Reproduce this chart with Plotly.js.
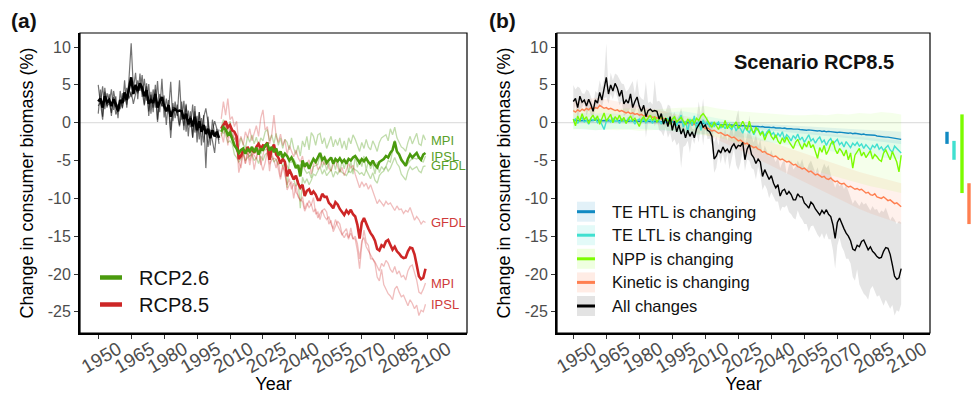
<!DOCTYPE html>
<html><head><meta charset="utf-8">
<script src="https://cdn.plot.ly/plotly-3.0.1.min.js"></script>
<style>html,body{margin:0;padding:0;background:#fff}#chart{width:971px;height:394px}</style>
</head><body><div id="chart"></div>
<script>
// ---------- DATA ----------
const histStart = 1950, histEnd = 2005, futStart = 2006, futEnd = 2099;
const tickYears = [1950,1965,1980,1995,2010,2025,2040,2055,2070,2085,2100];
const tickVals = [-25,-20,-15,-10,-5,0,5,10];
const modelNames = ["MPI","IPSL","GFDL"];

// historical (1950-2005)
const histMean = [2.8,3.2,2.0,3.5,2.7,3.0,2.2,3.1,2.4,1.5, 3.0,2.6,4.0,3.0,4.5,6.0,3.8,5.0,4.2,5.2, 4.6,3.5,4.3,2.5,3.0,2.6,3.8,2.0,2.8,3.4, 2.2,1.5,2.3,0.8,1.6,1.8,1.5,1.6,1.5,0.5, 1.2,-0.2,0.6,-0.5,0.8,-1.0,0.2,-1.2,-0.3,-1.5, -0.8,-2.0,-1.0,-1.8,-1.2,-2.0];
const histM1 = [5.0,2.5,4.8,1.8,3.9,2.6,4.4,1.7,3.5,0.6, 4.2,1.9,5.6,2.0,5.8,10.5,4.5,6.6,3.1,6.5, 3.4,5.8,2.9,5.1,1.2,4.4,2.0,5.5,1.4,5.8, 0.7,3.2,1.5,5.4,0.2,2.8,0.9,5.6,0.4,2.9, -1.2,1.6,-0.6,2.4,-1.3,0.9,-2.2,0.6,-2.6,-0.4, -3.2,-0.9,-2.4,-4.0,-0.8,-2.8];
const histM2 = [1.2,4.4,0.8,4.6,2.0,3.8,0.9,4.2,2.6,2.2, 1.8,3.9,2.8,4.6,3.2,4.1,2.5,3.8,5.6,4.2, 6.3,2.4,5.2,0.9,4.1,1.4,5.0,0.4,3.8,2.2, 3.6,-0.3,3.0,-1.0,2.6,0.6,2.4,-0.3,2.8,-1.0, 2.5,-1.8,1.5,-2.0,2.2,-2.6,1.4,-3.0,1.0,-6.0, 0.8,-3.0,0.4,-1.6,-2.0,-0.9];
const histM3 = [2.2,2.7,0.4,4.1,2.2,2.6,1.3,3.4,1.1,1.7, 3.0,2.0,3.6,2.4,4.5,3.4,4.4,4.6,3.9,4.9, 4.1,2.3,4.8,1.5,3.7,2.0,4.4,0.1,3.2,2.2, 2.3,1.6,2.4,-2.0,2.0,2.0,1.2,-0.5,1.3,-0.4, 2.3,-0.4,0.9,-1.9,1.5,-1.3,1.4,-1.2,0.7,1.9, 0.0,-2.1,-1.0,0.2,-0.8,-2.3];

// RCP8.5 (2006-2099)
const rcp85Mean = [-0.8,-0.2,0.2,-0.6, -0.3,-1.0,-1.2,-1.8,-4.8,-4.4,-3.6,-4.0,-3.2,-3.8, -3.5,-4.0,-3.2,-2.8,-3.4,-3.0,-3.1,-2.6,-4.9,-3.5, -2.9,-4.2,-4.6,-5.4,-4.8,-5.2,-7.1,-6.2,-6.8,-7.5, -7.0,-8.0,-8.6,-8.2,-9.7,-9.0,-8.8,-9.5,-9.1,-9.5, -10.2,-10.2,-9.4,-9.8,-9.8,-10.6,-10.9,-11.3,-10.5,-10.8, -11.4,-11.8,-12.2,-11.6,-12.0,-11.5,-12.1,-12.4,-13.5,-15.3, -13.2,-12.6,-13.4,-14.0,-14.6,-15.0,-15.6,-16.7,-16.9,-16.2, -16.4,-15.7,-15.5,-16.2,-16.8,-16.4,-17.0,-17.3,-17.7,-17.9, -17.8,-17.0,-16.5,-16.6,-17.4,-18.8,-20.3,-20.7,-20.5,-19.3];
const rcp85MPI = [-1.5,-0.8,0.0,-2.0, -0.6,-2.2,-1.0,-3.0,-5.2,-6.0,-3.8,-5.4,-3.6,-5.0, -4.0,-6.2,-4.4,-3.2,-5.6,-4.4,-3.0,-3.6,-6.4,-4.0, -5.0,-6.0,-5.0,-7.2,-5.6,-7.0,-8.2,-7.4,-8.8,-8.0, -9.2,-9.6,-10.4,-9.8,-11.4,-10.6,-11.2,-10.8,-11.8,-11.4, -12.6,-12.0,-11.6,-12.4,-12.8,-12.4,-13.4,-14.0,-12.8,-13.6, -14.2,-14.8,-14.4,-14.0,-15.2,-14.6,-15.4,-15.0,-16.0,-18.0, -15.6,-15.2,-16.4,-17.0,-17.6,-18.0,-18.4,-19.0,-19.6,-18.6, -19.0,-18.2,-18.6,-19.4,-19.8,-19.0,-20.0,-19.6,-20.4,-20.2, -20.8,-19.6,-19.0,-18.8,-19.8,-20.8,-22.4,-22.6,-22.0,-21.2];
const rcp85IPSL = [-1.4,-2.6,-0.4,-3.0, -0.7,-1.6,-2.1,-2.6,-6.6,-5.4,-4.0,-5.4,-4.0,-5.6, -4.1,-4.3,-4.8,-3.4,-5.2,-6.3,-5.3,-3.7,-5.5,-4.9, -4.7,-4.8,-6.2,-7.5,-5.8,-6.4,-8.9,-8.2,-7.8,-10.0, -8.2,-9.8,-10.2,-10.4,-11.7,-11.1,-10.3,-10.9,-9.9,-12.1, -11.8,-12.8,-11.6,-11.4,-11.8,-13.4,-12.9,-14.4,-13.7,-13.0, -13.4,-14.7,-15.2,-14.6,-15.4,-13.9,-15.3,-15.4,-16.9,-19.3, -16.2,-14.2,-15.8,-16.2,-18.0,-18.0,-18.6,-20.4,-20.9,-19.4, -21.4,-22.0,-22.6,-22.9,-23.4,-22.0,-21.6,-22.4,-23.0,-22.8, -23.6,-24.2,-23.4,-23.9,-24.6,-24.1,-25.5,-24.8,-25.0,-24.0];
const rcp85GFDL = [0.5,2.8,1.0,3.2, 0.4,0.8,-0.5,0.2,-2.6,-1.8,-3.0,-1.2,-2.0,-0.8, -2.4,-1.5,-0.4,-1.8,0.6,1.7,-1.0,-0.5,-2.8,-1.6, 1.0,-1.8,-2.6,-1.5,-3.0,-2.2,-4.2,-3.0,-3.8,-4.5, -3.6,-4.6,-5.2,-4.4,-6.0,-5.3,-4.9,-6.8,-5.6,-5.0, -6.2,-5.8,-5.0,-5.6,-4.8,-6.0,-6.4,-5.5,-5.0,-5.8, -6.6,-5.9,-7.0,-6.2,-5.4,-6.0,-5.6,-6.8,-7.6,-8.6, -7.8,-8.4,-8.0,-8.8,-8.2,-9.0,-9.8,-10.7,-10.2,-10.6, -11.0,-10.4,-10.8,-10.6,-11.2,-11.6,-11.0,-11.5,-11.4,-12.0, -11.6,-11.8,-11.2,-12.0,-12.9,-12.4,-12.8,-13.4,-13.0,-13.2];

// RCP2.6 (2006-2099)
const rcp26Mean = [-1.2,-0.6,-0.9,-1.6, -1.3,-2.2,-3.0,-3.4,-4.0,-3.6,-3.4,-4.1,-3.5,-3.8, -3.2,-3.9,-3.3,-4.2,-3.5,-3.6,-3.0,-2.8,-3.7,-3.2, -3.9,-3.4,-4.3,-3.8,-4.6,-4.1,-4.4,-5.0,-4.6,-5.2, -6.0,-5.6,-7.1,-5.0,-5.8,-5.3,-6.1,-5.4,-4.8,-5.2, -4.5,-4.0,-4.9,-4.6,-5.3,-5.0,-4.6,-5.4,-4.8,-5.1, -4.7,-5.2,-4.9,-5.4,-4.8,-5.0,-4.6,-4.4,-4.9,-5.3, -4.8,-5.1,-4.7,-5.2,-5.5,-5.0,-5.6,-5.9,-5.2,-5.0, -4.8,-4.4,-4.6,-4.0,-3.6,-2.5,-3.8,-4.2,-4.9,-5.3, -5.7,-4.8,-4.2,-4.6,-4.3,-4.0,-4.6,-4.9,-4.2,-4.0];
const rcp26MPI = [-0.6,0.4,-0.2,-1.0, 0.2,-1.6,-2.2,-1.8,-3.2,-2.0,-2.8,-3.4,-1.8,-2.6, -1.6,-2.8,-1.9,-3.2,-2.0,-2.4,-1.2,-0.9,-2.4,-1.6, -2.8,-1.4,-3.0,-2.0,-3.4,-2.2,-2.6,-3.6,-2.0,-3.4, -4.2,-3.0,-4.4,-2.4,-3.2,-1.8,-3.6,-1.3,-1.8,-3.0, -1.6,-1.4,-2.8,-2.0,-3.4,-2.6,-1.8,-3.2,-2.2,-3.0, -2.0,-3.4,-2.4,-3.6,-2.0,-2.8,-1.6,-2.2,-3.0,-3.8, -2.6,-3.4,-2.2,-3.2,-3.6,-2.4,-3.0,-3.8,-2.6,-2.0, -1.8,-1.6,-2.4,-0.8,-1.6,-0.6,-2.0,-2.6,-3.2,-3.4, -3.8,-2.6,-1.8,-2.8,-2.2,-1.4,-2.8,-3.0,-1.6,-2.3];
const rcp26IPSL = [-1.2,-1.4,-0.9,-1.2, -1.7,-2.2,-2.6,-3.8,-3.6,-4.0,-3.4,-3.9,-4.1,-4.4, -3.8,-3.9,-3.4,-4.0,-4.1,-3.4,-3.6,-3.5,-3.9,-3.6, -3.7,-4.0,-4.3,-4.4,-4.6,-4.9,-8.6,-5.2,-5.2,-4.8, -5.4,-6.2,-5.6,-5.4,-6.2,-6.7,-6.5,-7.3,-5.8,-5.6, -5.5,-4.2,-5.9,-5.0,-6.3,-5.2,-6.4,-5.0,-6.2,-4.9, -6.5,-5.0,-6.1,-4.9,-6.6,-5.1,-6.8,-4.4,-5.9,-4.8, -5.8,-4.4,-6.3,-5.0,-6.1,-5.4,-6.8,-5.2,-6.6,-5.8, -6.2,-5.8,-5.0,-5.2,-3.8,-2.3,-4.0,-4.2,-4.7,-5.3, -5.7,-5.4,-5.0,-4.8,-4.7,-4.8,-4.6,-5.1,-5.2,-4.4];
const rcp26GFDL = [-1.8,-0.8,-1.6,-2.6, -2.4,-2.8,-4.2,-4.6,-5.2,-4.8,-4.0,-5.0,-4.6,-4.4, -4.2,-5.0,-4.6,-5.4,-4.4,-5.0,-4.2,-4.0,-4.8,-4.4, -5.2,-4.8,-5.6,-5.0,-5.8,-5.2,-5.8,-6.2,-6.6,-7.4, -8.4,-7.6,-11.3,-7.2,-8.0,-7.4,-8.2,-7.6,-6.8,-7.0, -6.4,-5.8,-6.8,-6.2,-7.0,-6.6,-6.2,-7.2,-6.4,-6.8, -6.2,-6.6,-6.8,-7.0,-6.4,-6.6,-6.0,-6.2,-6.4,-6.8, -6.6,-7.0,-6.2,-6.8,-7.4,-6.6,-7.6,-8.0,-7.0,-6.6, -6.4,-5.8,-6.4,-6.0,-5.4,-4.6,-5.4,-5.8,-6.8,-7.2, -7.6,-6.4,-5.8,-6.2,-6.0,-5.8,-6.4,-6.6,-5.8,-5.7];

// Panel (b): one-driver-at-a-time experiments, RCP8.5 (1950-2099)
const effHTL = [0.3,0.35,0.3,0.25,0.3,0.35,0.3,0.3,0.25,0.3, 0.35,0.3,0.3,0.25,0.3,0.3,0.35,0.3,0.25,0.3, 0.3,0.25,0.3,0.3,0.25,0.2,0.25,0.3,0.25,0.2, 0.25,0.2,0.2,0.25,0.2,0.15,0.2,0.2,0.15,0.2, 0.15,0.1,0.15,0.1,0.1,0.15,0.05,0.1,0.05,0.1, 0.05,0.0,0.05,0.0,-0.05,0.0,-0.05,-0.1,-0.05,-0.1, -0.1,-0.15,-0.1,-0.15,-0.2,-0.15,-0.2,-0.25,-0.2,-0.25, -0.3,-0.25,-0.3,-0.35,-0.3,-0.35,-0.4,-0.35,-0.4,-0.45, -0.4,-0.45,-0.5,-0.45,-0.5,-0.55,-0.5,-0.6,-0.55,-0.6, -0.65,-0.6,-0.7,-0.65,-0.7,-0.75,-0.7,-0.8,-0.75,-0.8, -0.85,-0.9,-0.85,-0.9,-0.95,-0.9,-1.0,-0.95,-1.0,-1.05, -1.05,-1.1,-1.05,-1.15,-1.1,-1.2,-1.15,-1.2,-1.25,-1.2, -1.3,-1.25,-1.3,-1.35,-1.3,-1.4,-1.35,-1.45,-1.4,-1.5, -1.5,-1.55,-1.5,-1.6,-1.6,-1.65,-1.7,-1.65,-1.75,-1.8, -1.8,-1.85,-1.9,-1.9,-1.95,-2.0,-2.05,-2.1,-2.15,-2.2];
const effLTL = [0.2,0.5,-0.1,0.4,0.7,0.1,0.3,-0.2,0.5,0.3, 0.6,0.0,0.4,-0.3,-0.9,0.2,0.5,0.1,0.6,0.2, 0.4,-0.1,0.5,0.3,0.0,0.6,0.2,0.4,-0.2,0.3, 0.5,0.1,0.6,0.0,0.3,0.4,-0.1,0.5,0.2,0.3, -0.2,0.4,0.1,0.6,0.0,0.3,0.8,-0.4,0.5,1.0, -0.6,0.2,-1.2,0.5,-0.4,0.9,-0.8,0.3,-1.0,0.4, -0.3,0.2,-0.6,0.1,-0.5,-0.2,0.1,-0.7,-0.3,-0.8, -0.2,-0.6,-0.9,-0.3,-1.1,-0.5,-0.8,-1.4,-0.6,-1.0, -1.3,-0.7,-1.6,-1.0,-0.8,-1.5,-1.1,-1.8,-1.2,-0.9, -1.6,-1.3,-2.0,-1.4,-1.8,-1.2,-2.2,-1.6,-1.9,-2.4, -1.7,-2.1,-1.5,-2.3,-1.9,-2.6,-2.0,-1.6,-2.4,-2.1, -2.7,-2.2,-1.9,-2.6,-2.3,-3.0,-2.4,-2.1,-2.8,-2.5, -2.2,-2.9,-2.6,-3.2,-2.5,-2.9,-3.3,-2.7,-3.0,-2.6, -3.1,-2.8,-3.4,-2.9,-3.2,-3.6,-3.0,-3.3,-2.8,-3.5, -3.2,-3.7,-3.3,-3.0,-3.6,-3.9,-3.1,-3.4,-3.8,-4.0];
const effNPP = [0.5,-0.4,0.9,0.2,1.2,0.4,0.8,-0.1,0.6,1.0, 0.3,0.9,-0.2,0.7,1.3,0.2,0.6,1.1,0.0,0.8, 0.4,1.0,0.2,0.7,-0.1,0.5,0.9,0.3,0.6,0.1, -0.5,0.4,0.8,0.2,0.6,1.0,0.3,0.7,0.1,0.5, 0.9,0.0,0.6,0.3,-0.2,0.5,0.8,0.1,0.4,0.7, 0.2,-0.3,0.5,0.0,0.4,-0.1,0.6,0.3,0.9,1.2, 0.8,0.2,-0.2,-0.6,0.1,-0.4,-0.9,-0.2,-0.6,0.3, -0.8,-0.2,-0.6,-0.3,0.1,-0.7,-0.4,0.2,-0.5,-1.0, 0.2,-0.9,-1.4,-0.6,-1.0,-1.6,-1.2,-2.3,-1.5,-1.1, -1.8,-2.2,-1.6,-2.4,-2.8,-2.0,-2.6,-1.9,-2.5,-3.0, -3.4,-2.6,-2.2,-2.9,-3.5,-2.7,-3.2,-2.4,-3.3,-2.9, -3.8,-4.7,-3.3,-3.9,-3.0,-4.2,-3.6,-2.8,-2.4,-3.5, -4.1,-3.4,-3.8,-4.4,-3.6,-4.9,-4.0,-6.0,-4.3,-3.8, -3.4,-4.4,-3.9,-4.6,-4.1,-3.7,-4.8,-4.2,-4.5,-4.9, -5.1,-4.0,-3.6,-4.3,-4.9,-3.8,-4.4,-5.2,-6.5,-4.3];
const effKin = [1.6,1.4,1.7,1.5,1.8,1.6,1.9,1.7,2.0,1.8, 2.0,1.9,2.3,2.1,1.9,2.0,1.8,1.9,1.7,1.6, 1.7,1.5,1.6,1.4,1.3,1.4,1.2,1.3,1.1,1.2, 1.0,1.1,0.9,1.0,0.8,0.9,0.7,0.8,0.6,0.7, 0.5,0.6,0.4,0.5,0.3,0.4,0.2,0.3,0.1,0.2, 0.0,0.1,-0.1,0.0,-0.3,-0.2,-0.4,-0.3,-0.6,-0.5, -0.8,-0.7,-0.9,-1.1,-1.0,-1.2,-1.4,-1.3,-1.5,-1.7, -1.6,-1.8,-2.0,-1.9,-2.2,-2.4,-2.3,-2.6,-2.8,-2.7, -3.0,-3.1,-3.3,-3.2,-3.5,-3.6,-3.9,-3.8,-4.1,-4.2, -4.3,-4.5,-4.4,-4.7,-4.9,-4.8,-5.0,-5.2,-5.1,-5.4, -5.6,-5.5,-5.8,-5.9,-6.1,-6.0,-6.3,-6.5,-6.4,-6.7, -6.9,-6.8,-7.0,-7.2,-7.1,-7.4,-7.5,-7.3,-7.6,-7.8, -7.7,-8.0,-8.1,-8.0,-8.3,-8.5,-8.4,-8.6,-8.8,-8.7, -8.9,-8.8,-9.1,-9.3,-9.2,-9.5,-9.6,-9.4,-9.8,-9.9, -10.0,-9.8,-10.1,-10.3,-10.2,-10.5,-10.7,-10.6,-10.9,-11.1];

// spread (model range) of each experiment, every 5 years
const ribYears = [1950,1955,1960,1965,1970,1975,1980,1985,1990,1995,2000,2005,2010,2015,2020,2025,2030,2035,2040,2045,2050,2055,2060,2065,2070,2075,2080,2085,2090,2095,2099];
const htlLo = [0.0,0.0,-0.05,-0.05,-0.1,-0.1,-0.1,-0.15,-0.15,-0.2,-0.2,-0.25,-0.3,-0.4,-0.5,-0.6,-0.7,-0.85,-1.0,-1.15,-1.3,-1.45,-1.6,-1.75,-1.9,-2.05,-2.2,-2.35,-2.5,-2.65,-2.8];
const htlHi = [0.6,0.6,0.6,0.55,0.55,0.5,0.5,0.45,0.4,0.4,0.35,0.3,0.25,0.2,0.1,0.05,0.0,-0.1,-0.2,-0.3,-0.4,-0.5,-0.55,-0.65,-0.75,-0.8,-0.9,-0.95,-1.05,-1.1,-1.2];
const ltlLo = [-0.8,-0.9,-1.0,-0.9,-0.8,-0.9,-0.8,-0.9,-1.0,-1.1,-1.4,-1.6,-1.5,-1.4,-1.6,-1.9,-2.1,-2.4,-2.6,-2.9,-3.1,-3.3,-3.5,-3.7,-3.9,-4.1,-4.2,-4.4,-4.6,-4.7,-4.9];
const ltlHi = [1.2,1.3,1.2,1.3,1.2,1.1,1.2,1.1,1.2,1.4,1.5,1.3,0.9,0.6,0.3,0.0,-0.2,-0.4,-0.6,-0.8,-1.0,-1.2,-1.3,-1.5,-1.6,-1.8,-1.9,-2.0,-2.2,-2.3,-2.4];
const nppLo = [-0.9,-0.8,-1.0,-0.9,-1.0,-0.9,-1.1,-1.0,-0.9,-1.1,-1.3,-1.5,-1.7,-1.9,-2.3,-2.7,-3.2,-3.8,-4.4,-5.0,-5.5,-6.0,-6.4,-6.8,-7.2,-7.6,-8.0,-8.4,-8.7,-9.0,-9.3];
const nppHi = [1.8,1.9,2.0,1.9,1.8,1.9,1.8,1.7,1.8,1.9,2.0,2.0,2.2,1.9,1.7,1.5,1.4,1.3,1.2,1.1,1.0,1.0,1.1,1.0,1.2,1.1,1.3,1.2,1.4,1.3,1.1];
const kinLo = [0.6,0.7,0.8,0.7,0.5,0.3,0.1,-0.1,-0.3,-0.5,-0.8,-1.2,-1.6,-2.2,-2.8,-3.5,-4.2,-5.0,-5.8,-6.5,-7.2,-7.9,-8.6,-9.3,-10.0,-10.7,-11.4,-12.0,-12.6,-13.0,-13.4];
const kinHi = [2.8,3.0,3.3,3.1,2.8,2.5,2.2,1.9,1.6,1.3,1.0,0.7,0.3,-0.2,-0.6,-1.1,-1.6,-2.1,-2.6,-3.1,-3.6,-4.1,-4.6,-5.0,-5.5,-6.0,-6.5,-6.9,-7.3,-7.7,-8.0];

const effNames = ["TE HTL is changing","TE LTL is changing","NPP is changing","Kinetic is changing","All changes"];

// ---------- BUILD ----------
function seq(a,b){const o=[];for(let v=a;v<=b;v++)o.push(v);return o;}
const histYears = seq(histStart,histEnd), futYears = seq(futStart,futEnd), allYears = seq(histStart,futEnd);
const FONT = "Liberation Sans, Arial, Helvetica, sans-serif";
const GREEN = "#4a9a0e", RED = "#cd2626";
const cHTL = "#118ac2", cLTL = "#40e0d0", cNPP = "#7cfc00", cKIN = "#ff7f50";
const fHTL = "rgba(17,138,194,0.10)", fLTL = "rgba(64,224,208,0.11)", fNPP = "rgba(124,252,0,0.08)", fKIN = "rgba(255,127,80,0.11)", fALL = "rgba(0,0,0,0.10)";
const kHTL = "rgba(17,138,194,0.12)", kLTL = "rgba(64,224,208,0.15)", kNPP = "rgba(124,252,0,0.12)", kKIN = "rgba(255,127,80,0.15)", kALL = "rgba(0,0,0,0.11)";

const traces = [];
function line(x,y,color,width,xa,ya){traces.push({type:"scatter",mode:"lines",x:x,y:y,line:{color:color,width:width},xaxis:xa,yaxis:ya,showlegend:false,hoverinfo:"skip"});}
function band(x,lo,hi,fill,xa,ya){traces.push({type:"scatter",mode:"lines",x:x.concat(x.slice().reverse()),y:hi.concat(lo.slice().reverse()),fill:"toself",fillcolor:fill,line:{width:0},xaxis:xa,yaxis:ya,showlegend:false,hoverinfo:"skip"});}

// panel a
[histM1,histM2,histM3].forEach(m=>line(histYears,m,"rgba(0,0,0,0.55)",1.2,"x","y"));
const g26 = [rcp26MPI,rcp26IPSL,rcp26GFDL], r85 = [rcp85MPI,rcp85IPSL,rcp85GFDL];
g26.forEach(m=>line(futYears,m,"rgba(74,154,14,0.35)",1.3,"x","y"));
r85.forEach(m=>line(futYears,m,"rgba(205,38,38,0.3)",1.3,"x","y"));
line(histYears,histMean,"#000",2.6,"x","y");
line(futYears,rcp85Mean,RED,2.6,"x","y");
line(futYears,rcp26Mean,GREEN,2.6,"x","y");

// panel b
const allMin = histYears.map((_,i)=>Math.min(histM1[i],histM2[i],histM3[i])).concat(futYears.map((_,i)=>Math.min(rcp85MPI[i],rcp85IPSL[i],rcp85GFDL[i])));
const allMax = histYears.map((_,i)=>Math.max(histM1[i],histM2[i],histM3[i])).concat(futYears.map((_,i)=>Math.max(rcp85MPI[i],rcp85IPSL[i],rcp85GFDL[i])));
const allMean = histMean.concat(rcp85Mean);
band(allYears,allMin,allMax,fALL,"x2","y2");
band(ribYears,kinLo,kinHi,fKIN,"x2","y2");
band(ribYears,nppLo,nppHi,fNPP,"x2","y2");
band(ribYears,ltlLo,ltlHi,fLTL,"x2","y2");
band(ribYears,htlLo,htlHi,fHTL,"x2","y2");
line(allYears,effKin,cKIN,1.4,"x2","y2");
line(allYears,effHTL,cHTL,1.4,"x2","y2");
line(allYears,effLTL,cLTL,1.4,"x2","y2");
line(allYears,effNPP,cNPP,1.4,"x2","y2");
line(allYears,allMean,"#000",1.4,"x2","y2");

// ---------- LAYOUT ----------
const L=80,R=930,T=33,B=333;
const PX = p=>(p-L)/(R-L), PY = p=>(B-p)/(B-T);
function xax(dom,range,anchor){return {domain:dom,range:range,anchor:anchor,tickmode:"array",tickvals:tickYears,ticktext:tickYears.map(String),tickangle:-30,ticks:"outside",ticklen:4,tickwidth:1,tickcolor:"#333",tickfont:{family:FONT,size:19,color:"#4d4d4d"},ticklabelshift:20,ticklabelstandoff:-8,showgrid:false,zeroline:false,showline:true,linecolor:"#000",linewidth:2,title:{text:"Year",font:{family:FONT,size:18,color:"#000"}}};}
function yax(anchor){return {domain:[0,1],range:[-27.8,11.86],anchor:anchor,tickmode:"array",tickvals:tickVals,ticktext:tickVals.map(String),ticks:"outside",ticklen:4,tickwidth:1,tickcolor:"#333",tickfont:{family:FONT,size:16,color:"#4d4d4d"},showgrid:false,zeroline:false,showline:true,linecolor:"#000",linewidth:2,title:{text:"Change in consumer biomass (%)",font:{family:FONT,size:18,color:"#000"}}};}

const shapes = [];
const ann = [];
["x","x2"].forEach((xa,k)=>{
  const ya = k? "y2":"y";
  shapes.push({type:"line",xref:xa+" domain",yref:ya,x0:0,x1:1,y0:0,y1:0,line:{color:"#d9d9d9",width:1},layer:"below"});
  shapes.push({type:"rect",xref:xa+" domain",yref:ya+" domain",x0:0,x1:1,y0:0,y1:1,line:{color:"#000",width:1.2},fillcolor:"rgba(0,0,0,0)"});
});
// panel a legend
[["RCP2.6",GREEN,277.5],["RCP8.5",RED,304.5]].forEach(([t,c,py])=>{
  shapes.push({type:"line",xref:"paper",yref:"paper",x0:PX(100),x1:PX(122),y0:PY(py),y1:PY(py),line:{color:c,width:4.5}});
  ann.push({xref:"paper",yref:"paper",x:PX(137),y:PY(py),xanchor:"left",yanchor:"middle",text:t,showarrow:false,font:{family:FONT,size:20,color:"#111"}});
});
// model labels at end of each model run
const lastYear = futYears[futYears.length-1];
g26.forEach((m,i)=>ann.push({xref:"x",yref:"y",x:lastYear+1.5,y:m[m.length-1],xanchor:"left",yanchor:"middle",text:modelNames[i],showarrow:false,font:{family:FONT,size:13,color:"#5a9f2a"}}));
r85.forEach((m,i)=>ann.push({xref:"x",yref:"y",x:lastYear+1.5,y:m[m.length-1],xanchor:"left",yanchor:"middle",text:modelNames[i],showarrow:false,font:{family:FONT,size:13,color:"#cf3a3a"}}));
// panel b legend
const legCols = [[cHTL,kHTL],[cLTL,kLTL],[cNPP,kNPP],[cKIN,kKIN],["#000",kALL]];
const legY = [211.7,235.2,258.8,282.4,306];
effNames.forEach((t,i)=>{
  const py = legY[i];
  shapes.push({type:"rect",xref:"paper",yref:"paper",x0:PX(577),x1:PX(595),y0:PY(py+10),y1:PY(py-10),line:{width:0},fillcolor:legCols[i][1]});
  shapes.push({type:"line",xref:"paper",yref:"paper",x0:PX(577),x1:PX(595),y0:PY(py),y1:PY(py),line:{color:legCols[i][0],width:3}});
  ann.push({xref:"paper",yref:"paper",x:PX(610),y:PY(py),xanchor:"left",yanchor:"middle",text:t,showarrow:false,font:{family:FONT,size:16.5,color:"#111"}});
});
// range bars at end of century, right of panel b
const barX = [947,954,962,969];
[[htlLo,htlHi,cHTL],[ltlLo,ltlHi,cLTL],[nppLo,nppHi,cNPP],[kinLo,kinHi,cKIN]].forEach(([lo,hi,c],i)=>{
  shapes.push({type:"rect",xref:"paper",yref:"y2",x0:PX(barX[i]-1.7),x1:PX(barX[i]+1.7),y0:lo[lo.length-1],y1:hi[hi.length-1],line:{width:0},fillcolor:c});
});
ann.push({xref:"paper",yref:"paper",x:PX(896),y:PY(62),xanchor:"right",yanchor:"middle",text:"<b>Scenario RCP8.5</b>",showarrow:false,font:{family:FONT,size:20,color:"#111"}});
ann.push({xref:"paper",yref:"paper",x:PX(9),y:PY(21),xanchor:"left",yanchor:"middle",text:"<b>(a)</b>",showarrow:false,font:{family:FONT,size:21,color:"#111"}});
ann.push({xref:"paper",yref:"paper",x:PX(487),y:PY(21),xanchor:"left",yanchor:"middle",text:"<b>(b)</b>",showarrow:false,font:{family:FONT,size:21,color:"#111"}});

const layout = {
  width:971,height:394,margin:{l:L,r:971-R,t:T,b:394-B},
  paper_bgcolor:"#fff",plot_bgcolor:"#fff",showlegend:false,
  font:{family:FONT},
  xaxis:xax([0,PX(467)],[1941.7,2117.9],"y"),
  yaxis:yax("x"),
  xaxis2:xax([PX(557),1],[1942.6,2112.1],"y2"),
  yaxis2:yax("x2"),
  shapes:shapes,annotations:ann
};
Plotly.newPlot("chart",traces,layout,{staticPlot:true,displayModeBar:false});
</script></body></html>
